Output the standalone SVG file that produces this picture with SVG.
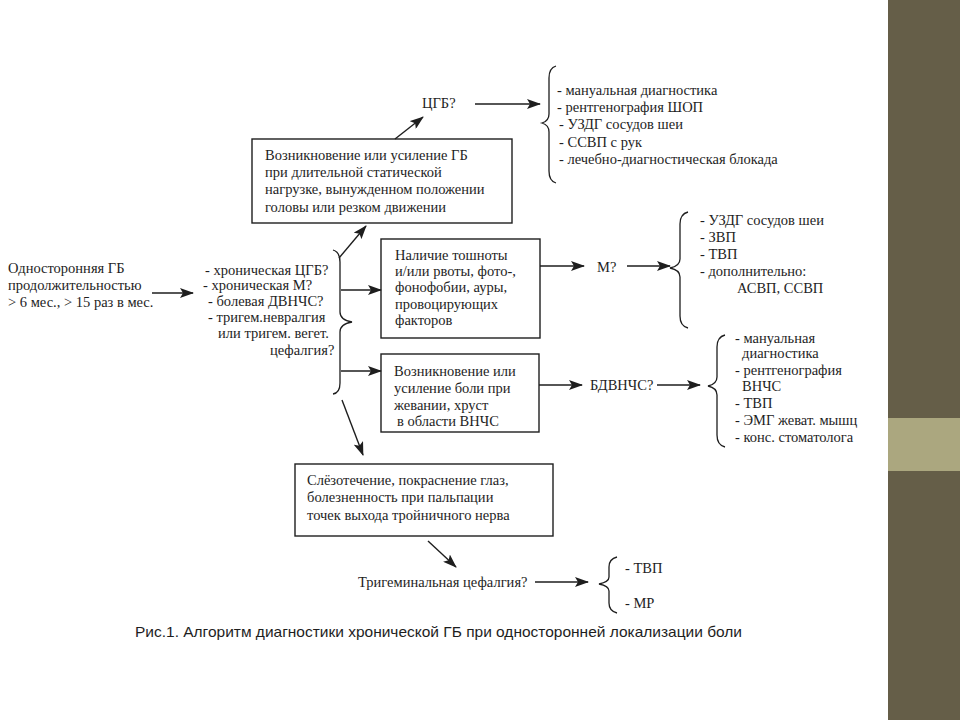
<svg xmlns="http://www.w3.org/2000/svg" width="960" height="720" viewBox="0 0 960 720">
<defs>
<marker id="ah" viewBox="0 0 14 10" refX="13" refY="5" markerWidth="14" markerHeight="10" markerUnits="userSpaceOnUse" orient="auto">
<path d="M0,0 L14,5 L0,10 L3,5 Z" fill="#1e1e1e"/>
</marker>
<style>
.t{font-family:'Liberation Serif','Times New Roman',serif;fill:#1e1e1e;font-size:14.5px}
.l{font-size:14.5px}
.box rect{fill:none;stroke:#1e1e1e;stroke-width:1.4}
.c line{stroke:#1e1e1e;stroke-width:1.4;marker-end:url(#ah)}
.br{fill:none;stroke:#1e1e1e;stroke-width:1.3}
.cap{font-family:'Liberation Sans',Arial,sans-serif;font-size:15px;fill:#1e1e1e}
</style>
</defs>
<rect width="960" height="720" fill="#fff"/>
<rect x="888" y="0" width="72" height="720" fill="#655e48"/>
<rect x="888" y="418" width="72" height="53" fill="#aba77f"/>

<g class="t">
<g id="start">
<text x="8" y="273">Односторонняя ГБ</text>
<text x="8" y="290">продолжительностью</text>
<text x="8" y="307">&gt; 6 мес., &gt; 15 раз в мес.</text>
</g>

<g id="hypotheses">
<text x="205" y="275">- хроническая ЦГБ?</text>
<text x="203" y="290">- хроническая М?</text>
<text x="208" y="306">- болевая ДВНЧС?</text>
<text x="208" y="322">- тригем.невралгия</text>
<text x="218" y="338">или тригем. вегет.</text>
<text x="270" y="355">цефалгия?</text>
<path class="br" d="M333,250 Q340,252 340,262 L340,312 Q340,320 352,322 Q340,324 340,332 L340,383 Q340,393 333,394"/>
</g>

<g id="box1" class="box">
<rect x="252" y="139" width="260" height="84"/>
<text x="265" y="160">Возникновение или усиление ГБ</text>
<text x="265" y="177">при длительной статической</text>
<text x="265" y="194">нагрузке, вынужденном положении</text>
<text x="265" y="212">головы или резком движении</text>
</g>

<g id="cgb">
<text x="422" y="108">ЦГБ?</text>
<path class="br" d="M556,66 Q549,68 549,78 L549,114 Q549,121 542,123 Q549,125 549,132 L549,171 Q549,181 556,183"/>
<text class="l" x="557" y="95">- мануальная диагностика</text>
<text class="l" x="557" y="112">- рентгенография ШОП</text>
<text class="l" x="559" y="129">- УЗДГ сосудов шеи</text>
<text class="l" x="559" y="147">- ССВП с рук</text>
<text class="l" x="559" y="164">- лечебно-диагностическая блокада</text>
</g>

<g id="box2" class="box">
<rect x="381" y="239" width="159" height="99"/>
<text x="395" y="260">Наличие тошноты</text>
<text x="395" y="276">и/или рвоты, фото-,</text>
<text x="395" y="292">фонофобии, ауры,</text>
<text x="395" y="309">провоцирующих</text>
<text x="395" y="325">факторов</text>
</g>

<g id="migraine">
<text x="597" y="272">М?</text>
<path class="br" d="M688,212 Q680,214 680,224 L680,259 Q680,266 670,268 Q680,270 680,277 L680,316 Q680,326 688,328"/>
<text class="l" x="700" y="225">- УЗДГ сосудов шеи</text>
<text class="l" x="700" y="242">- ЗВП</text>
<text class="l" x="700" y="259">- ТВП</text>
<text class="l" x="700" y="276">- дополнительно:</text>
<text class="l" x="737" y="293">АСВП, ССВП</text>
</g>

<g id="box3" class="box">
<rect x="381" y="354" width="158" height="78"/>
<text x="394" y="376">Возникновение или</text>
<text x="394" y="393">усиление боли при</text>
<text x="394" y="410">жевании, хруст</text>
<text x="397" y="426">в области ВНЧС</text>
</g>

<g id="bdvnchs">
<text x="590" y="390">БДВНЧС?</text>
<path class="br" d="M725,335 Q717,337 717,347 L717,377 Q717,384 708,386 Q717,388 717,395 L717,435 Q717,445 725,447"/>
<text class="l" x="735" y="343">- мануальная</text>
<text class="l" x="742" y="358">диагностика</text>
<text class="l" x="735" y="375">- рентгенография</text>
<text class="l" x="742" y="391">ВНЧС</text>
<text class="l" x="735" y="408">- ТВП</text>
<text class="l" x="735" y="425">- ЭМГ жеват. мышц</text>
<text class="l" x="735" y="442">- конс. стоматолога</text>
</g>

<g id="box4" class="box">
<rect x="295" y="464" width="258" height="72"/>
<text x="307" y="485">Слёзотечение, покраснение глаз,</text>
<text x="307" y="502">болезненность при пальпации</text>
<text x="307" y="520">точек выхода тройничного нерва</text>
</g>

<g id="trig">
<text x="358" y="587">Тригеминальная цефалгия?</text>
<path class="br" d="M617,557 Q609,559 609,567 L609,577 Q609,582 599,584 Q609,586 609,591 L609,603 Q609,611 617,613"/>
<text class="l" x="625" y="573">- ТВП</text>
<text class="l" x="625" y="608">- МР</text>
</g>
</g>

<g id="connectors" class="c">
<line x1="152" y1="293" x2="193" y2="293"/>
<line x1="339" y1="258" x2="366" y2="226"/>
<line x1="341" y1="290" x2="381" y2="290"/>
<line x1="341" y1="371" x2="381" y2="371"/>
<line x1="342" y1="400" x2="363" y2="455"/>
<line x1="395" y1="139" x2="423" y2="117"/>
<line x1="475" y1="104" x2="540" y2="104"/>
<line x1="540" y1="266" x2="584" y2="266"/>
<line x1="627" y1="266" x2="670" y2="266"/>
<line x1="539" y1="385" x2="582" y2="385"/>
<line x1="657" y1="385" x2="700" y2="385"/>
<line x1="428" y1="541" x2="456" y2="567"/>
<line x1="535" y1="582" x2="588" y2="582"/>
</g>

<text class="cap" x="135" y="637" textLength="607" lengthAdjust="spacingAndGlyphs">Рис.1. Алгоритм диагностики хронической ГБ при односторонней локализации боли</text>
</svg>
